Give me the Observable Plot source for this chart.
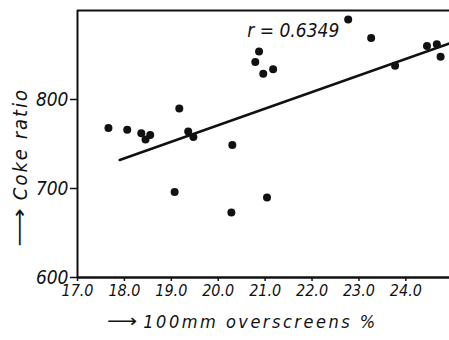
<!DOCTYPE html>
<html><head><meta charset="utf-8">
<script src="https://cdn.jsdelivr.net/npm/d3@7"></script>
<script src="https://cdn.jsdelivr.net/npm/@observablehq/plot@0.6"></script>
<style>
body{margin:0;background:#fff;}
</style>
</head><body><div id="chart"></div>
<script>
// 100mm overscreens (%) for each sample
const overscreens = [17.66, 18.06, 18.36, 18.45, 18.55, 19.17, 19.36, 19.47, 19.07,
  20.30, 20.28, 21.04, 20.79, 20.87, 20.96, 21.17, 22.77, 23.26, 23.77, 24.45, 24.66, 24.74];
// Coke ratio for each sample
const cokeRatio = [768, 766, 762, 755, 760, 790, 764, 758, 696,
  749, 673, 690, 842, 854, 829, 834, 890, 869, 838, 860, 862, 848];
// fitted regression line end points
const fitX = [17.9, 24.93];
const fitY = [732, 863];
const xTicks = [17, 18, 19, 20, 21, 22, 23, 24];
const yTicks = [600, 700, 800];
const rLabel = "r = 0.6349";
const xLabel = "100mm overscreens %";
const yLabel = "Coke ratio";
const arrow = "⟶";

const pts = overscreens.map((x, i) => ({x, y: cokeRatio[i]}));
const fit = fitX.map((x, i) => ({x, y: fitY[i]}));
const font = "'DejaVu Sans Condensed', 'DejaVu Sans', sans-serif";

const chart = Plot.plot({
  width: 449, height: 340,
  marginLeft: 77, marginRight: 0, marginTop: 10, marginBottom: 63,
  style: {fontFamily: font, fontStyle: "italic", color: "#111", background: "#fff", overflow: "visible"},
  x: {domain: [17, 24.93]},
  y: {domain: [600, 900]},
  marks: [
    Plot.axisX({ticks: xTicks, tickFormat: d => d.toFixed(1), tickSize: 4, tickPadding: 3, label: null, fontSize: 16, strokeWidth: 1.5}),
    Plot.axisY({ticks: yTicks, tickSize: 7, tickPadding: 2, label: null, fontSize: 19, strokeWidth: 1.5}),
    Plot.ruleX([17], {strokeWidth: 2, stroke: "#111"}),
    Plot.ruleY([600], {strokeWidth: 2.5, stroke: "#111"}),
    Plot.ruleY([900], {strokeWidth: 2, stroke: "#111"}),
    Plot.line(fit, {x: "x", y: "y", strokeWidth: 2.5, stroke: "#111"}),
    Plot.dot(pts, {x: "x", y: "y", r: 4, fill: "#111"}),
    Plot.text([rLabel], {x: 21.6, y: 877, text: d => d, fontSize: 19, fill: "#111"}),
    Plot.text([xLabel], {frameAnchor: "bottom", dx: -3, dy: 50, text: d => d, fontSize: 18, fill: "#111"}),
    Plot.text([arrow], {frameAnchor: "bottom", rotate: 360, dx: -141.5, dy: 49, text: d => d, fontSize: 18, fill: "#111"}),
    Plot.text([yLabel], {frameAnchor: "left", textAnchor: "middle", rotate: -90, dx: -57, dy: 0, text: d => d, fontSize: 20, fill: "#111"}),
    Plot.text([arrow], {frameAnchor: "left", textAnchor: "middle", rotate: -90, dx: -58, dy: 83.5, text: d => d, fontSize: 20, fill: "#111"})
  ]
});
document.getElementById("chart").appendChild(chart);
chart.style.fontStretch = "condensed";
d3.select(chart).selectAll("text").each(function() {
  const t = this.textContent;
  if (t === xLabel) this.style.letterSpacing = "2.5px";
  if (t === yLabel) this.style.letterSpacing = "2px";
});
// stretch the label arrows along their direction
d3.select(chart).selectAll("text").filter(function() { return this.textContent === arrow; })
  .each(function() {
    const tr = this.getAttribute("transform") || "";
    const isY = tr.includes("rotate(-90)");
    this.setAttribute("transform", tr + (isY ? " scale(1.5,1)" : " scale(1.3,1)"));
  });
</script>
</body></html>
